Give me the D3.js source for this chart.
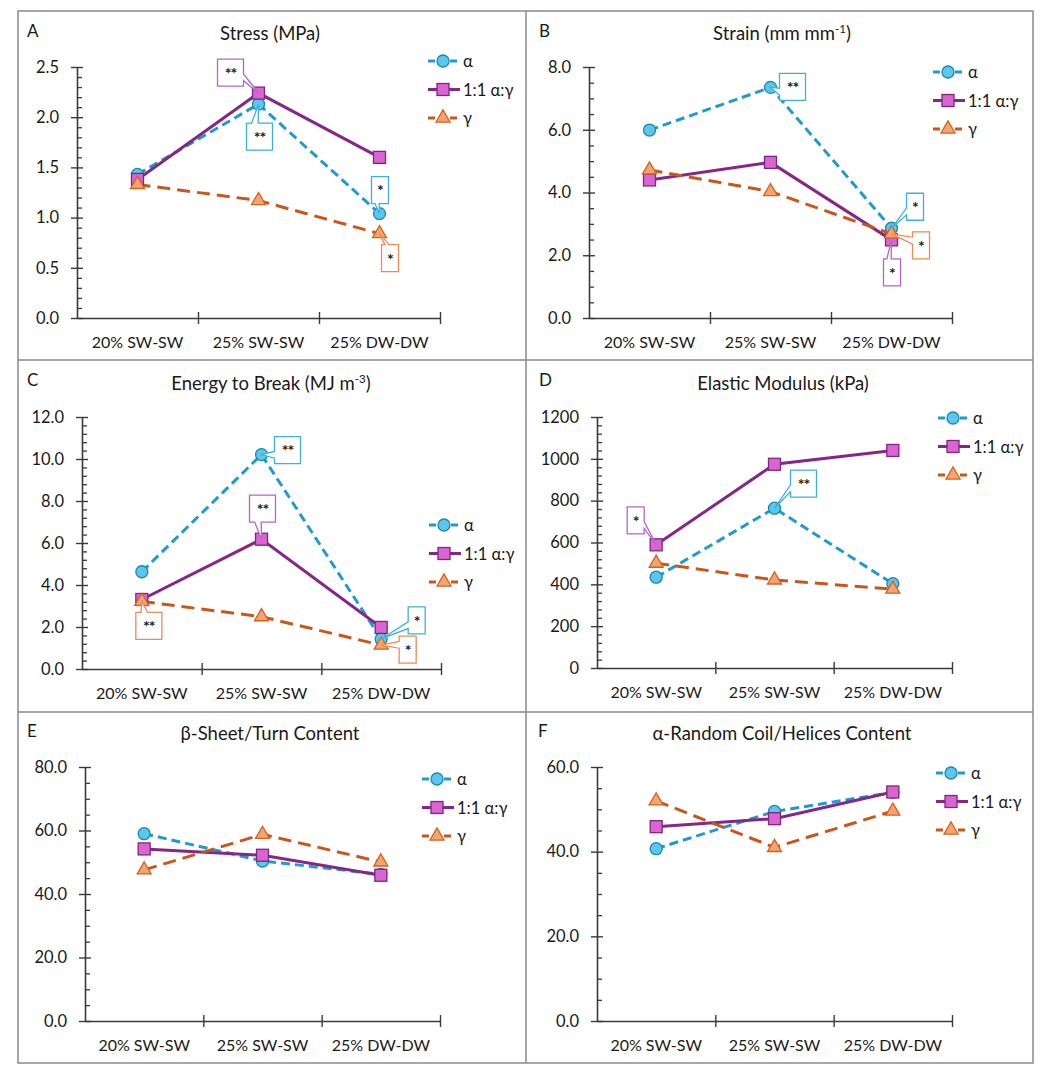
<!DOCTYPE html>
<html>
<head>
<meta charset="utf-8">
<script src="https://cdn.jsdelivr.net/npm/d3@7"></script>
<style>
  body { margin: 0; background: #fff; }
  svg text { font-family: Lato, "Open Sans", sans-serif; fill: #1a1a1a; }
</style>
</head>
<body>
<div id="chart"></div>
<script>
// --- data ---
const categories = ["20% SW-SW", "25% SW-SW", "25% DW-DW"];
const seriesNames = ["α", "1:1 α:γ", "γ"];

const stressAlpha = [1.43, 2.13, 1.04];
const stressMix   = [1.38, 2.24, 1.60];
const stressGamma = [1.33, 1.17, 0.84];

const strainAlpha = [5.99, 7.35, 2.86];
const strainMix   = [4.40, 4.96, 2.49];
const strainGamma = [4.72, 4.03, 2.68];

const energyAlpha = [4.63, 10.21, 1.43];
const energyMix   = [3.31, 6.18, 1.98];
const energyGamma = [3.22, 2.49, 1.14];

const modulusAlpha = [434, 764, 403];
const modulusMix   = [589, 974, 1040];
const modulusGamma = [501, 421, 377];

const betaAlpha = [59.0, 50.4, 46.2];
const betaMix   = [54.2, 52.2, 45.9];
const betaGamma = [47.6, 58.8, 50.1];

const helixAlpha = [40.7, 49.5, 54.0];
const helixMix   = [45.9, 47.8, 54.1];
const helixGamma = [52.0, 41.0, 49.6];

// significance marks: series index, category index, label
const stressSig  = [[1, 1, "**"], [0, 1, "**"], [0, 2, "*"], [2, 2, "*"]];
const strainSig  = [[0, 1, "**"], [0, 2, "*"], [2, 2, "*"], [1, 2, "*"]];
const energySig  = [[0, 1, "**"], [1, 1, "**"], [2, 0, "**"], [0, 2, "*"], [2, 2, "*"]];
const modulusSig = [[1, 0, "*"], [0, 1, "**"]];

// --- layout ---
const W = 1061, H = 1073;

const styles = [
  { line: "#1F9BD0", dash: "9,5",  fill: "#5CC7EC", stroke: "#1C87B5", box: "#3DB1DC", shape: "circle" },
  { line: "#862787", dash: null,   fill: "#DB63D3", stroke: "#7A2A7C", box: "#B467C8", shape: "square" },
  { line: "#C9571B", dash: "13,7", fill: "#F6A46F", stroke: "#D3621F", box: "#EE8B53", shape: "triangle" }
];

const panels = [
  { label: "A", title: "Stress (MPa)", series: [stressAlpha, stressMix, stressGamma],
    yMax: 2.5, major: 0.5, minor: 0.1, fmt: ".1f",
    ax: 77, xEnd: 440, yTop: 67, yBot: 318, titleX: 270, titleY: 40, labelX: 27, labelY: 37, legX: 428, legY: 61,
    sig: stressSig, boxes: [[-41, -34], [-12, 19], [-8, -37], [2, 11]] },
  { label: "B", title: "Strain (mm mm", sup: "-1", after: ")", series: [strainAlpha, strainMix, strainGamma],
    yMax: 8, major: 2, minor: 0.5, fmt: ".1f",
    ax: 589, xEnd: 952, yTop: 67, yBot: 318, titleX: 782, titleY: 40, labelX: 539, labelY: 37, legX: 933, legY: 72,
    sig: strainSig, boxes: [[9, -14], [15, -35], [21, -2], [-8, 19]] },
  { label: "C", title: "Energy to Break (MJ m", sup: "-3", after: ")", series: [energyAlpha, energyMix, energyGamma],
    yMax: 12, major: 2, minor: 0.4, fmt: ".1f",
    ax: 82, xEnd: 441, yTop: 417, yBot: 669, titleX: 271, titleY: 390, labelX: 27, labelY: 386, legX: 429, legY: 525,
    sig: energySig, boxes: [[13, -18], [-12, -44], [-6, 11], [27, -32], [18, -9]] },
  { label: "D", title: "Elastic Modulus (kPa)", series: [modulusAlpha, modulusMix, modulusGamma],
    yMax: 1200, major: 200, minor: 40, fmt: "d",
    ax: 597, xEnd: 952, yTop: 417, yBot: 668, titleX: 783, titleY: 390, labelX: 539, labelY: 386, legX: 938, legY: 418,
    sig: modulusSig, boxes: [[-29, -38], [16, -38]] },
  { label: "E", title: "β-Sheet/Turn Content", series: [betaAlpha, betaMix, betaGamma],
    yMax: 80, major: 20, minor: 5, fmt: ".1f",
    ax: 85, xEnd: 440, yTop: 767, yBot: 1021, titleX: 270, titleY: 740, labelX: 27, labelY: 737, legX: 422, legY: 779,
    sig: [], boxes: [] },
  { label: "F", title: "α-Random Coil/Helices Content", series: [helixAlpha, helixMix, helixGamma],
    yMax: 60, major: 20, minor: 5, fmt: ".1f",
    ax: 597, xEnd: 952, yTop: 767, yBot: 1021, titleX: 782, titleY: 740, labelX: 538, labelY: 737, legX: 936, legY: 773,
    sig: [], boxes: [] }
];

const svg = d3.select("#chart").append("svg")
  .attr("width", W).attr("height", H);

svg.append("rect").attr("width", W).attr("height", H).attr("fill", "#fff");

// outer frame and dividers
const frame = svg.append("g").attr("stroke", "#8a8a8a").attr("stroke-width", 1.5).attr("fill", "none");
frame.append("rect").attr("x", 18).attr("y", 11).attr("width", 1015).attr("height", 1052);
frame.append("line").attr("x1", 526).attr("x2", 526).attr("y1", 11).attr("y2", 1063);
frame.append("line").attr("x1", 18).attr("x2", 1033).attr("y1", 360).attr("y2", 360);
frame.append("line").attr("x1", 18).attr("x2", 1033).attr("y1", 712).attr("y2", 712);

function drawMarker(g, shape, st, x, y) {
  if (shape === "circle") {
    g.append("circle").attr("cx", x).attr("cy", y).attr("r", 6)
      .attr("fill", st.fill).attr("stroke", st.stroke).attr("stroke-width", 1.3);
  } else if (shape === "square") {
    g.append("rect").attr("x", x - 6).attr("y", y - 6).attr("width", 12).attr("height", 12)
      .attr("fill", st.fill).attr("stroke", st.stroke).attr("stroke-width", 1.3);
  } else {
    g.append("path").attr("d", d3.symbol(d3.symbolTriangle).size(85)())
      .attr("transform", `translate(${x},${y})`)
      .attr("fill", st.fill).attr("stroke", st.stroke).attr("stroke-width", 1.3);
  }
}

// rectangle callout with a wedge pointing at (tx, ty)
function calloutPath(bx, by, w, h, tx, ty) {
  const cx = bx + w / 2, cy = by + h / 2;
  const nx = (tx - cx) / (w / 2), ny = (ty - cy) / (h / 2);
  const r = bx + w, b = by + h;
  if (Math.abs(ny) >= Math.abs(nx)) {
    const a = tx > cx ? bx + w * 0.55 : bx + w * 0.2;
    const c = tx > cx ? bx + w * 0.8 : bx + w * 0.45;
    if (ny > 0) return `M${bx},${by}H${r}V${b}H${c}L${tx},${ty}L${a},${b}H${bx}Z`;
    return `M${bx},${by}H${a}L${tx},${ty}L${c},${by}H${r}V${b}H${bx}Z`;
  }
  const a = ty > cy ? by + h * 0.55 : by + h * 0.2;
  const c = ty > cy ? by + h * 0.8 : by + h * 0.45;
  if (nx > 0) return `M${bx},${by}H${r}V${a}L${tx},${ty}L${r},${c}V${b}H${bx}Z`;
  return `M${bx},${by}H${r}V${b}H${bx}V${c}L${tx},${ty}L${bx},${a}Z`;
}

panels.forEach(p => {
  const g = svg.append("g");

  const x = d3.scaleBand().domain(categories).range([p.ax, p.xEnd]);
  const xEdge = d3.scaleLinear().domain([0, categories.length]).range([p.ax, p.xEnd]);
  const y = d3.scaleLinear().domain([0, p.yMax]).range([p.yBot, p.yTop]);

  const nMajor = Math.round(p.yMax / p.major);
  const majorTicks = d3.range(nMajor + 1).map(i => i * p.major);
  const nMinor = Math.round(p.yMax / p.minor);
  const minorTicks = d3.range(nMinor + 1).map(i => i * p.minor)
    .filter((v, i) => i % Math.round(p.major / p.minor) !== 0);

  // minor ticks (pointing inward)
  const minorAxis = g.append("g")
    .attr("transform", `translate(${p.ax},0)`)
    .call(d3.axisLeft(y).tickValues(minorTicks).tickSize(-5).tickFormat(""));
  minorAxis.select(".domain").remove();
  minorAxis.selectAll("line").attr("stroke", "#3a3a3a").attr("stroke-width", 1.3);

  // major ticks crossing the axis
  const yAxis = g.append("g")
    .attr("transform", `translate(${p.ax},0)`)
    .call(d3.axisLeft(y).tickValues(majorTicks).tickSizeOuter(0).tickPadding(12).tickFormat(d3.format(p.fmt)));
  yAxis.select(".domain").attr("stroke", "#3a3a3a").attr("stroke-width", 1.6);
  yAxis.selectAll(".tick line").attr("x1", -6).attr("x2", 6).attr("stroke", "#3a3a3a").attr("stroke-width", 1.4);
  yAxis.selectAll(".tick text").attr("font-size", 16.5).attr("font-family", "Lato, sans-serif").attr("fill", "#1a1a1a");

  // x axis: boundary ticks + category labels
  const xTicks = g.append("g")
    .attr("transform", `translate(0,${p.yBot})`)
    .call(d3.axisBottom(xEdge).tickValues(d3.range(1, categories.length + 1)).tickSizeOuter(0).tickFormat(""));
  xTicks.select(".domain").attr("stroke", "#3a3a3a").attr("stroke-width", 1.6);
  xTicks.selectAll(".tick line").attr("y1", -6).attr("y2", 6).attr("stroke", "#3a3a3a").attr("stroke-width", 1.4);

  const xLabels = g.append("g")
    .attr("transform", `translate(0,${p.yBot})`)
    .call(d3.axisBottom(x).tickSize(0).tickPadding(19));
  xLabels.select(".domain").remove();
  xLabels.selectAll(".tick text").attr("font-size", 16).attr("font-family", "Lato, sans-serif").attr("fill", "#1a1a1a");

  // title and panel letter
  const t = g.append("text").attr("x", p.titleX).attr("y", p.titleY)
    .attr("text-anchor", "middle").attr("font-size", 18.5).text(p.title);
  if (p.sup) {
    t.append("tspan").attr("font-size", 11.5).attr("dy", -7).text(p.sup);
    t.append("tspan").attr("dy", 7).text(p.after);
  }
  g.append("text").attr("x", p.labelX).attr("y", p.labelY).attr("font-size", 17).text(p.label);

  // series lines
  const line = d3.line()
    .x((d, i) => x(categories[i]) + x.bandwidth() / 2)
    .y(d => y(d));

  p.series.forEach((vals, s) => {
    g.append("path").datum(vals)
      .attr("d", line)
      .attr("fill", "none")
      .attr("stroke", styles[s].line)
      .attr("stroke-width", 3)
      .attr("stroke-dasharray", styles[s].dash);
  });
  p.series.forEach((vals, s) => {
    vals.forEach((v, i) => drawMarker(g, styles[s].shape, styles[s], x(categories[i]) + x.bandwidth() / 2, y(v)));
  });

  // significance callouts
  p.sig.forEach(([s, i, label], k) => {
    const tx = x(categories[i]) + x.bandwidth() / 2;
    const ty = y(p.series[s][i]);
    const [dx, dy] = p.boxes[k];
    const w = label.length > 1 ? 26 : 17, h = 27;
    const bx = tx + dx, by = ty + dy;
    g.append("path").attr("d", calloutPath(bx, by, w, h, tx, ty))
      .attr("fill", "#fff").attr("stroke", styles[s].box).attr("stroke-width", 1.3);
    g.append("text").attr("x", bx + w / 2).attr("y", by + h * 0.42 + 8.5)
      .attr("text-anchor", "middle").attr("font-size", 16).attr("font-weight", "bold")
      .attr("font-family", "DejaVu Sans, sans-serif").attr("fill", "#222")
      .attr("letter-spacing", -1)
      .text(label);
  });

  // legend
  seriesNames.forEach((name, s) => {
    const ly = p.legY + s * 28.5;
    const st = styles[s];
    g.append("line").attr("x1", p.legX).attr("x2", p.legX + 32).attr("y1", ly).attr("y2", ly)
      .attr("stroke", st.line).attr("stroke-width", 3)
      .attr("stroke-dasharray", st.dash ? "7,4" : null);
    drawMarker(g, st.shape, st, p.legX + 15, ly);
    g.append("text").attr("x", p.legX + 35).attr("y", ly + 6).attr("font-size", 16.5).text(name);
  });
});
</script>
</body>
</html>
